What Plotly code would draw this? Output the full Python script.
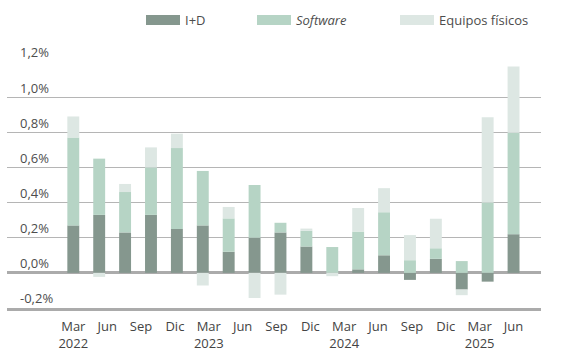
import plotly.graph_objects as go

# ---- data (values in %) ----
id_vals = [0.27, 0.33, 0.23, 0.33, 0.25, 0.27, 0.12, 0.20, 0.23, 0.15, 0.00, 0.02, 0.10, -0.04, 0.08, -0.095, -0.05, 0.22]
sw_vals = [0.50, 0.32, 0.23, 0.27, 0.46, 0.31, 0.19, 0.30, 0.055, 0.09, 0.147, 0.215, 0.245, 0.072, 0.06, 0.067, 0.40, 0.577]
eq_vals = [0.12, -0.023, 0.046, 0.114, 0.082, -0.072, 0.065, -0.143, -0.124, 0.012, -0.019, 0.134, 0.137, 0.143, 0.168, -0.032, 0.486, 0.377]

series_names = ["I+D", "<i>Software</i>", "Equipos físicos"]
tick_labels = ["Mar<br>2022", "Jun", "Sep", "Dic",
               "Mar<br>2023", "Jun", "Sep", "Dic",
               "Mar<br>2024", "Jun", "Sep", "Dic",
               "Mar<br>2025", "Jun"]
y_ticks = [-0.2, 0.0, 0.2, 0.4, 0.6, 0.8, 1.0, 1.2]
y_tick_labels = ["-0,2%", "0,0%", "0,2%", "0,4%", "0,6%", "0,8%", "1,0%", "1,2%"]

colors = ["#85978e", "#b6d4c5", "#dde7e3"]
FONT = "Open Sans"
W, H = 569, 363

n = len(id_vals)
x = list(range(n))
# tick labels spread evenly over the span of the bars
tick_pos = [i * (n - 1) / (len(tick_labels) - 1) for i in range(len(tick_labels))]

fig = go.Figure()
legends = ["legend", "legend2", "legend3"]
for name, vals, col, lg in zip(series_names, [id_vals, sw_vals, eq_vals], colors, legends):
    fig.add_trace(go.Bar(x=x, y=vals, marker=dict(color=col, line=dict(width=0)),
                         width=0.46, showlegend=False, name=name, hoverinfo="skip"))
    fig.add_trace(go.Scatter(x=[None], y=[None], mode="lines", name=name,
                             line=dict(color=col, width=10), legend=lg))

leg_common = dict(orientation="h", yanchor="middle", xanchor="left",
                  xref="container", yref="container", y=1 - 20 / H,
                  bgcolor="rgba(0,0,0,0)", font=dict(family=FONT, size=13, color="#4d4d4d"),
                  itemwidth=34)

fig.update_layout(
    width=W, height=H,
    margin=dict(l=7, r=28, t=62, b=55, autoexpand=False),
    paper_bgcolor="white", plot_bgcolor="white",
    barmode="relative",
    font=dict(family=FONT, color="#4d4d4d"),
    legend=dict(x=141 / W, **leg_common),
    legend2=dict(x=252 / W, **leg_common),
    legend3=dict(x=395 / W, **leg_common),
    xaxis=dict(range=[-2.56, 18.06], tickmode="array", tickvals=tick_pos, ticktext=tick_labels,
               showgrid=False, zeroline=False, showline=True, linecolor="#ababab", linewidth=3,
               ticks="", ticklabelstandoff=4,
               tickfont=dict(family=FONT, size=13, color="#444444"), fixedrange=True),
    yaxis=dict(range=[-0.2, 1.2], tickmode="array", tickvals=y_ticks, ticktext=y_tick_labels,
               ticklabelposition="inside top", ticklabeloverflow="allow",
               ticklabelstandoff=10,
               showgrid=True, gridcolor="#b5b5b5", gridwidth=1,
               zeroline=True, zerolinecolor="#ababab", zerolinewidth=3,
               showline=False, ticks="",
               tickfont=dict(family=FONT, size=13, color="#4d4d4d"), fixedrange=True),
)

fig.write_html("out.html", config={"displayModeBar": False},
               post_script="document.body.style.margin='0';")
